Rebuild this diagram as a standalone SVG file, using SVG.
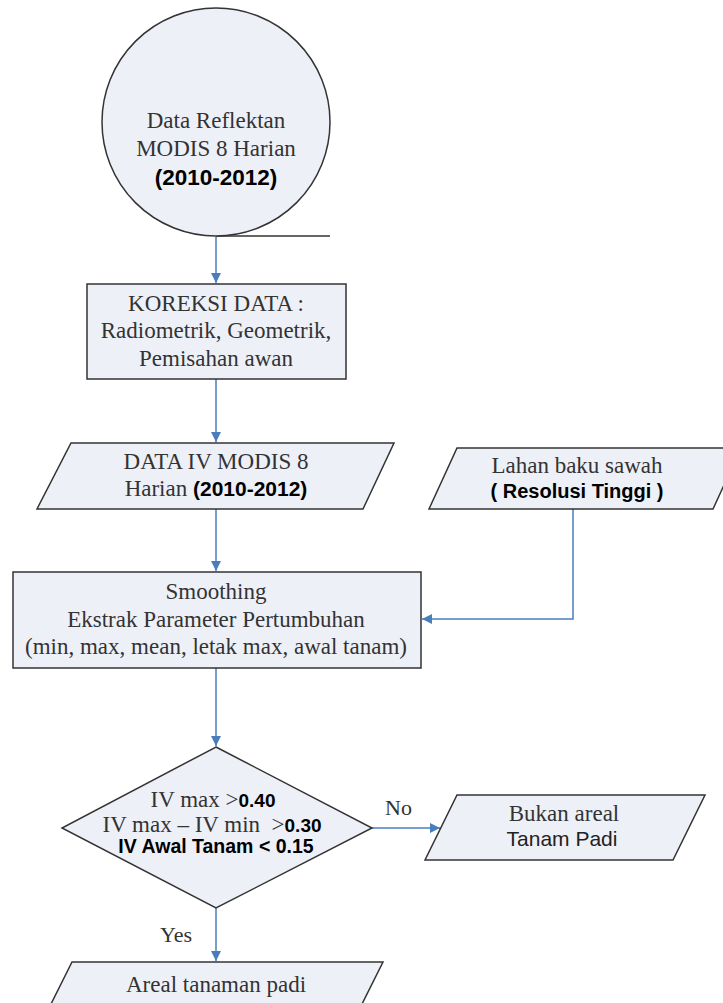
<svg xmlns="http://www.w3.org/2000/svg" width="723" height="1003" viewBox="0 0 723 1003">
<style>
.shape{fill:#eef0f8;stroke:#333;stroke-width:1.5}
.serif{font-family:"Liberation Serif","Times New Roman",serif;font-size:23px;fill:#333}
.sans{font-family:"Liberation Sans",Arial,sans-serif;font-size:21px;fill:#222}
.bold{font-family:"Liberation Sans",Arial,sans-serif;font-weight:bold;fill:#000}
.conn{fill:none;stroke:#4a7ebb;stroke-width:1.5}
.lbl{font-family:"Liberation Serif","Times New Roman",serif;font-size:22px;fill:#333}
</style>
<defs>
<marker id="arr" viewBox="0 0 10 10" refX="10" refY="5" markerWidth="10" markerHeight="10" markerUnits="userSpaceOnUse" orient="auto">
<path d="M0,0 L10,5 L0,10 z" fill="#4a7ebb"/>
</marker>
</defs>
<rect width="723" height="1003" fill="#fff"/>
<g id="connectors">
<line x1="216" y1="236" x2="330" y2="236" stroke="#333" stroke-width="1.5"/>
<line class="conn" x1="216" y1="237" x2="216" y2="283" marker-end="url(#arr)"/>
<line class="conn" x1="216" y1="379" x2="216" y2="442" marker-end="url(#arr)"/>
<line class="conn" x1="216" y1="509" x2="216" y2="571" marker-end="url(#arr)"/>
<polyline class="conn" points="573,509 573,619 422,619" stroke="#8fb0e0" marker-end="url(#arr)"/>
<line class="conn" x1="216" y1="668" x2="216" y2="746" marker-end="url(#arr)"/>
<line class="conn" x1="372" y1="828" x2="440" y2="828" marker-end="url(#arr)"/>
<line class="conn" x1="216" y1="908" x2="216" y2="961" marker-end="url(#arr)"/>
<text class="lbl" x="385" y="815">No</text>
<text class="lbl" x="160" y="942">Yes</text>
</g>
<g id="node-source">
<circle class="shape" cx="216" cy="122" r="114"/>
<text class="serif" x="216" y="128" text-anchor="middle">Data Reflektan</text>
<text class="serif" x="216" y="156" text-anchor="middle">MODIS 8 Harian</text>
<text class="bold" x="216" y="185" font-size="22.5" text-anchor="middle">(2010-2012)</text>
</g>
<g id="node-koreksi">
<rect class="shape" x="87" y="284" width="259" height="95"/>
<text class="serif" x="216" y="311" text-anchor="middle">KOREKSI DATA :</text>
<text class="serif" x="216" y="338" text-anchor="middle">Radiometrik, Geometrik,</text>
<text class="serif" x="216" y="366" text-anchor="middle">Pemisahan awan</text>
</g>
<g id="node-dataiv">
<polygon class="shape" points="71,443 394,443 363,509 37,509"/>
<text class="serif" x="216" y="469" text-anchor="middle">DATA IV MODIS 8</text>
<text x="216" y="496" text-anchor="middle"><tspan class="serif">Harian </tspan><tspan class="bold" font-size="21">(2010-2012)</tspan></text>
</g>
<g id="node-lahan">
<polygon class="shape" points="457,448 741,448 713,509 429,509"/>
<text class="serif" x="577" y="473" text-anchor="middle">Lahan baku sawah</text>
<text class="bold" x="577" y="498" font-size="20" text-anchor="middle">( Resolusi Tinggi )</text>
</g>
<g id="node-smoothing">
<rect class="shape" x="13" y="572" width="408" height="96"/>
<text class="serif" x="216" y="599" text-anchor="middle">Smoothing</text>
<text class="serif" x="216" y="627" text-anchor="middle">Ekstrak Parameter Pertumbuhan</text>
<text class="serif" x="216" y="654" text-anchor="middle">(min, max, mean, letak max, awal tanam)</text>
</g>
<g id="node-decision">
<polygon class="shape" points="216,747 372,828 216,908 62,828"/>
<text x="213" y="807" text-anchor="middle"><tspan class="serif">IV max &gt;</tspan><tspan class="bold" font-size="19">0.40</tspan></text>
<text x="212" y="832" text-anchor="middle"><tspan class="serif">IV max – IV min &#160;&gt;</tspan><tspan class="bold" font-size="19">0.30</tspan></text>
<text class="bold" x="216" y="853" font-size="19.5" text-anchor="middle">IV Awal Tanam &lt; 0.15</text>
</g>
<g id="node-bukan">
<polygon class="shape" points="457,795 705,795 673,860 425,860"/>
<text class="serif" x="564" y="821" text-anchor="middle">Bukan areal</text>
<text class="sans" x="562" y="846" text-anchor="middle">Tanam Padi</text>
</g>
<g id="node-areal">
<polygon class="shape" points="72,962 383,962 350,1028 39,1028"/>
<text class="serif" x="216" y="992" text-anchor="middle">Areal tanaman padi</text>
</g>
</svg>
